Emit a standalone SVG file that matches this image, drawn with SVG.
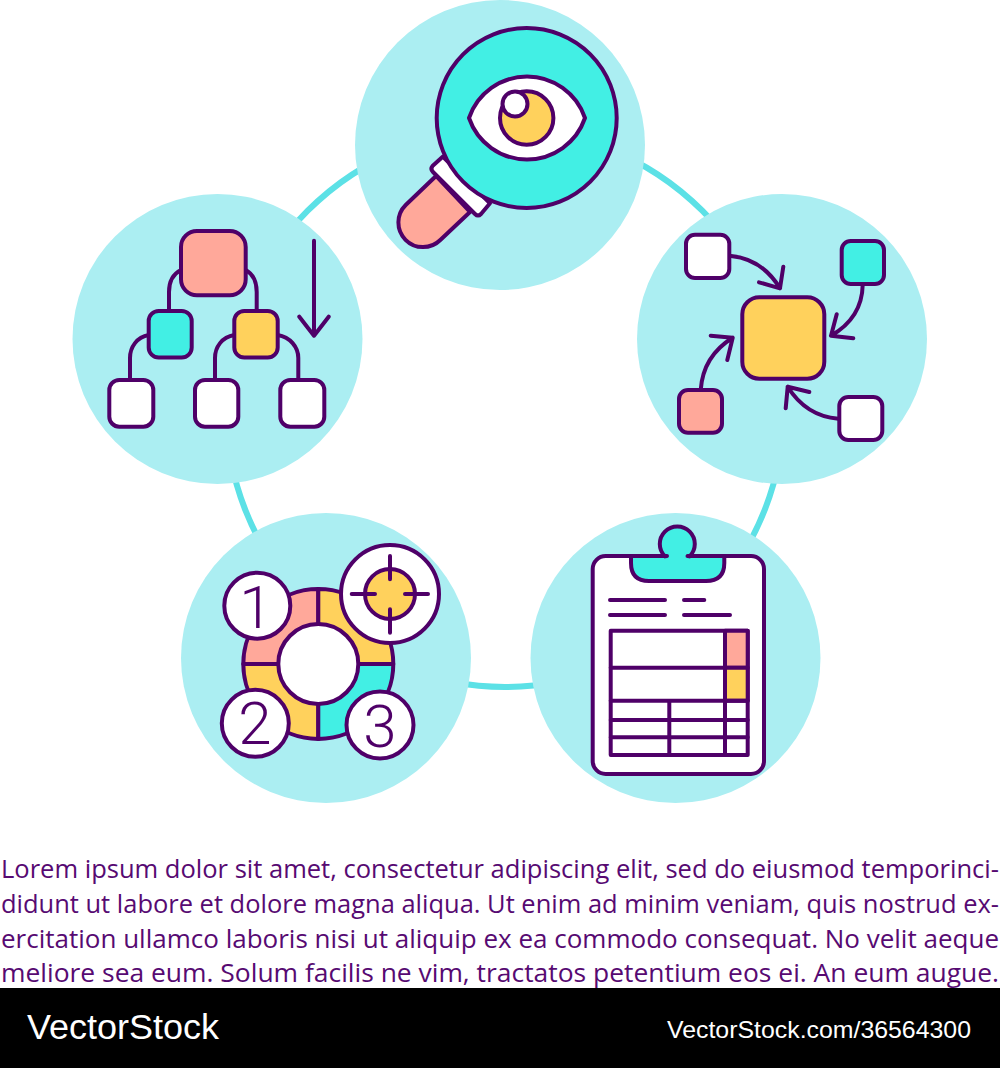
<svg xmlns="http://www.w3.org/2000/svg" width="1000" height="1068" viewBox="0 0 1000 1068">
<style>
.bg{fill:#abeef2}
.o{stroke:#4f0068;stroke-width:4;stroke-linejoin:round;stroke-linecap:round}
.l{fill:none;stroke:#4f0068;stroke-width:4;stroke-linejoin:round;stroke-linecap:round}
.w{fill:#fff}.t{fill:#42efe4}.y{fill:#ffd15c}.s{fill:#ffa89a}
.body{font-family:"Open Sans","Noto Sans",sans-serif;font-size:25.5px;fill:#570a72}
.num{font-family:Roboto,"DejaVu Sans",sans-serif;font-weight:300;font-size:60px;fill:#4f0068;text-anchor:middle}
.foot{font-family:"Liberation Sans",Arial,sans-serif;fill:#fff}
</style>
<rect width="1000" height="1068" fill="#fff"/>
<g id="connectors"><circle cx="505" cy="408" r="279" fill="none" stroke="#5ce1e6" stroke-width="6"/></g>

<g id="node-inspect">
<circle class="bg" cx="500" cy="145" r="145"/>
<path class="o s" d="M436,176 L405.7,205 A24.5,24.5 0 0 0 440.3,240 L470,212 Z"/>
<path class="o w" d="M442.7,156.7 L432.5,166 Q430,169 433,172 L475,214 Q478,217 481,214 L490,203.3 Z"/>
<circle class="o t" cx="526.7" cy="118" r="90"/>
<path class="o w" d="M469,118 A61.3,61.3 0 0 1 585,118 A61.3,61.3 0 0 1 469,118 Z"/>
<circle class="o y" cx="526.7" cy="118" r="26.7"/>
<circle class="o w" cx="515" cy="104" r="12.5"/>
</g>

<g id="node-hierarchy">
<circle class="bg" cx="217.5" cy="339" r="145"/>
<path class="l" d="M181,270 C173,274 169,282 169,292 V311 M245.7,270 C253,274 256.7,282 256.7,292 V311 M148.7,335 C137,337 130,347 130,358 V380 M234.3,335 C222,337 215,347 215,358 V380 M277.7,335 C290,337 298.3,347 298.3,358 V380"/>
<rect class="o s" x="181" y="231" width="64.7" height="64.3" rx="16"/>
<rect class="o t" x="148.7" y="311" width="43" height="46.5" rx="10"/>
<rect class="o y" x="234.3" y="311" width="43.4" height="46.5" rx="10"/>
<rect class="o w" x="109.3" y="380" width="44" height="46.7" rx="10"/>
<rect class="o w" x="195" y="380" width="43.3" height="46.7" rx="10"/>
<rect class="o w" x="280.3" y="380" width="44" height="46.7" rx="10"/>
<path class="l" d="M314,240.7 V335.7 M299.3,316.7 L314,335.7 L328.7,316.7"/>
</g>

<g id="node-flow">
<circle class="bg" cx="782" cy="339" r="145"/>
<rect class="o y" x="742.3" y="297.3" width="82" height="81.4" rx="17"/>
<rect class="o w" x="686" y="234.7" width="43.3" height="43.3" rx="9"/>
<rect class="o t" x="841.7" y="241" width="42.3" height="43" rx="9"/>
<rect class="o s" x="679" y="390" width="43" height="42.7" rx="9"/>
<rect class="o w" x="839.3" y="397" width="43" height="43" rx="9"/>
<path class="l" d="M731,256 Q762,259 780,288.3 M759,282.3 L780,288.3 L783.3,266.7 M862.7,285 Q862,318 831,335.7 M836.7,314.3 L831,335.7 L853.3,338.3 M700.7,390 Q703,356 732.7,337.7 M710.7,335.7 L732.7,337.7 L727.3,360 M838.3,418.7 Q806,416 787.7,386.7 M809.3,392 L787.7,386.7 L785.7,408.3"/>
</g>

<g id="node-cycle">
<circle class="bg" cx="326" cy="658" r="145"/>
<path class="o s" d="M318.3,664 V589 A75,75 0 0 0 243.3,664 Z"/>
<path class="o y" d="M318.3,664 V589 A75,75 0 0 1 393.3,664 Z"/>
<path class="o y" d="M318.3,664 H243.3 A75,75 0 0 0 318.3,739 Z"/>
<path class="o t" d="M318.3,664 H393.3 A75,75 0 0 1 318.3,739 Z"/>
<circle class="o w" cx="318.3" cy="664" r="40"/>
<circle class="o w" cx="257.3" cy="605.7" r="33"/>
<circle class="o w" cx="255.3" cy="723.3" r="33.5"/>
<circle class="o w" cx="380" cy="725" r="33.5"/>
<circle class="o w" cx="390" cy="594" r="49"/>
<circle class="o y" cx="390" cy="594" r="25"/>
<path class="l" d="M390,556 V579.3 M390,609.3 V632.7 M351.7,594 H375 M405,594 H428"/>
<text class="num" x="256" y="627.5">1</text>
<text class="num" x="255" y="744">2</text>
<text class="num" x="380" y="746.5">3</text>
</g>

<g id="node-report">
<circle class="bg" cx="675.5" cy="658" r="145"/>
<rect class="o w" x="592.7" y="556" width="171.3" height="218" rx="13"/>
<path class="o t" d="M631,556 H667 L665,556.4 A17.5,17.5 0 1 1 689.6,556.4 L687.5,556 H724.3 V563 Q724.3,581 706,581 H649 Q631,581 631,563 Z"/>
<path class="l" d="M610,600 H665 M684,600 H704.3 M610,615 H665 M684,615 H730"/>
<rect class="o w" x="610.7" y="630.7" width="137" height="124.3"/>
<rect class="o s" x="725" y="630.7" width="22.7" height="37"/>
<rect class="o y" x="725" y="667.7" width="22.7" height="33"/>
<path class="l" d="M610.7,667.7 H725 M610.7,700.7 H747.7 M610.7,720 H747.7 M610.7,737.3 H747.7 M725,700.7 V755 M669.3,700.7 V755"/>
</g>

<g id="caption">
<text class="body" x="1" y="878" textLength="998" lengthAdjust="spacingAndGlyphs">Lorem ipsum dolor sit amet, consectetur adipiscing elit, sed do eiusmod temporinci-</text>
<text class="body" x="1" y="913" textLength="998" lengthAdjust="spacingAndGlyphs">didunt ut labore et dolore magna aliqua. Ut enim ad minim veniam, quis nostrud ex-</text>
<text class="body" x="1" y="947.5" textLength="998" lengthAdjust="spacingAndGlyphs">ercitation ullamco laboris nisi ut aliquip ex ea commodo consequat. No velit aeque</text>
<text class="body" x="1" y="981.5" textLength="998" lengthAdjust="spacingAndGlyphs">meliore sea eum. Solum facilis ne vim, tractatos petentium eos ei. An eum augue.</text>
</g>

<g id="footer">
<rect x="0" y="988" width="1000" height="80" fill="#000"/>
<text class="foot" x="27" y="1039" font-size="35" textLength="192" lengthAdjust="spacingAndGlyphs">VectorStock</text>
<text class="foot" x="667" y="1038" font-size="24" textLength="304" lengthAdjust="spacingAndGlyphs">VectorStock.com/36564300</text>
</g>
</svg>
